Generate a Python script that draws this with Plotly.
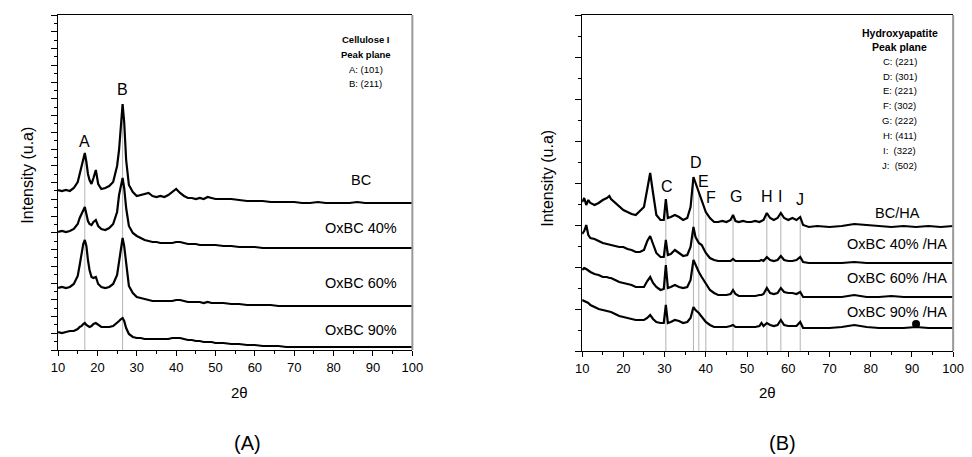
import numpy as np
import plotly.graph_objects as go

# ---------------- Panel A data (Cellulose) ----------------
x_a = [10, 11, 12, 13, 14, 15, 15.5, 16, 16.4, 16.8, 17.2, 17.6, 18, 18.5, 19, 19.6, 20.2, 21, 22, 23, 24, 25,
       25.5, 26, 26.4, 26.8, 27.3, 28, 29, 30, 31, 32, 33, 34, 35, 36, 37, 38, 39, 40, 41, 42, 43, 44, 45, 46,
       47, 48, 49, 50, 52, 54, 56, 58, 60, 62, 64, 66, 68, 70, 72, 74, 76, 78, 80, 82, 84, 86, 88, 90, 92, 94,
       96, 98, 100]
bc = [160, 159, 160, 159, 162, 168, 176, 184, 192, 197, 188, 176, 170, 166, 172, 180, 166, 161, 162, 164, 168, 184,
      200, 228, 246, 228, 190, 165, 158, 154, 155, 156, 157, 154, 153, 154, 153, 155, 158, 161, 157, 154, 152, 152,
      151, 152, 151, 153, 152, 151, 151, 151, 150, 149, 149, 149, 148, 148, 148, 148, 147, 147, 148, 147, 147, 147,
      147, 148, 147, 147, 147, 147, 147, 147, 147]
oxbc40 = [118, 119, 118, 119, 121, 126, 132, 137, 141, 143, 136, 129, 126, 125, 128, 130, 124, 121, 120, 122, 126,
          138, 155, 166, 172, 162, 142, 124, 117, 114, 112, 110, 109, 108, 108, 107, 107, 107, 107, 108, 108, 107,
          106, 106, 106, 105, 105, 105, 105, 105, 104, 104, 103, 103, 103, 102, 102, 102, 102, 102, 102, 102, 102,
          102, 102, 102, 102, 102, 102, 102, 102, 102, 102, 102, 102]
oxbc60 = [62, 63, 62, 63, 66, 74, 85, 97, 106, 110, 104, 90, 80, 73, 72, 73, 66, 63, 62, 63, 66, 75, 90, 105, 112,
          104, 85, 64, 57, 53, 52, 51, 50, 49, 49, 49, 49, 49, 49, 50, 50, 49, 48, 48, 48, 48, 47, 48, 47, 47, 47,
          46, 46, 45, 45, 45, 45, 44, 44, 44, 44, 44, 44, 44, 44, 44, 44, 44, 44, 44, 44, 44, 44, 44, 44]
oxbc90 = [18, 17, 18, 19, 19, 21, 23, 24, 26, 27, 25, 24, 23, 24, 26, 27, 25, 23, 23, 23, 24, 27, 29, 31, 32, 29,
          22, 16, 13, 12, 12, 11, 11, 11, 11, 11, 11, 11, 12, 12, 12, 11, 10, 10, 9, 9, 8, 8, 8, 7, 7, 6, 6, 5, 5,
          4, 4, 4, 3, 3, 3, 3, 3, 3, 3, 3, 3, 3, 3, 3, 3, 3, 3, 3, 3]
peaks_a = [16.8, 26.4]
peak_labels_a = ["A", "B"]
names_a = ["BC", "OxBC 40%", "OxBC 60%", "OxBC 90%"]

# ---------------- Panel B data (Hydroxyapatite) ----------------
x_b = [10, 10.5, 11, 11.5, 12, 13, 14, 15, 16, 16.6, 17, 18, 19, 20, 21, 22, 23, 24, 25, 25.8, 26.5, 27.2, 28, 29,
       29.8, 30.3, 30.8, 31.5, 32.5, 33.5, 34.5, 35.5, 36.3, 37, 37.5, 38.3, 39, 40, 41, 42, 43, 44, 45, 46, 46.6,
       47.2, 48, 49, 50, 51, 52, 53, 53.5, 54, 54.8, 55.6, 56.5, 57.4, 58.2, 59, 60, 61, 62, 62.9, 63.6, 65, 67,
       70, 73, 76, 79, 82, 85, 88, 91, 94, 97, 100]
bcha = [149, 153, 146, 151, 148, 146, 148, 151, 153, 155, 152, 148, 145, 141, 139, 137, 136, 140, 144, 162, 178,
        158, 136, 131, 131, 152, 133, 134, 136, 134, 131, 133, 144, 174, 168, 159, 149, 139, 133, 129, 129, 130,
        129, 131, 136, 130, 129, 130, 129, 129, 130, 129, 130, 131, 138, 133, 131, 133, 138, 133, 131, 133, 131,
        134, 126, 124, 125, 124, 125, 127, 126, 125, 124, 125, 124, 125, 124, 125]
oxbc40ha = [117, 120, 126, 116, 113, 112, 110, 108, 107, 106, 106, 105, 104, 104, 102, 101, 99, 99, 101, 110, 115,
            107, 98, 94, 94, 111, 96, 97, 101, 98, 95, 96, 104, 124, 114, 108, 106, 98, 93, 91, 90, 90, 90, 90, 92,
            90, 90, 90, 90, 90, 90, 90, 91, 90, 94, 91, 90, 91, 95, 91, 90, 90, 91, 94, 89, 88, 88, 88, 88, 89, 88,
            88, 88, 88, 88, 88, 88, 88]
oxbc60ha = [81, 83, 82, 80, 79, 77, 76, 74, 74, 73, 73, 71, 69, 68, 67, 66, 64, 64, 64, 70, 74, 68, 64, 61, 62, 86,
            63, 64, 66, 64, 63, 64, 71, 91, 86, 79, 74, 68, 61, 58, 56, 56, 56, 57, 61, 57, 55, 55, 55, 55, 55, 56,
            56, 57, 63, 58, 57, 58, 63, 59, 58, 58, 57, 59, 54, 54, 54, 54, 54, 56, 54, 54, 55, 54, 54, 54, 54, 54]
oxbc90ha = [51, 50, 49, 48, 46, 44, 42, 41, 40, 39, 39, 37, 35, 34, 33, 32, 31, 31, 31, 33, 36, 32, 29, 28, 28, 46,
            28, 29, 31, 30, 28, 29, 33, 44, 41, 38, 34, 29, 26, 24, 24, 24, 24, 25, 26, 24, 24, 24, 24, 24, 24, 25,
            28, 25, 28, 26, 25, 26, 31, 26, 25, 25, 25, 29, 23, 23, 23, 23, 24, 26, 24, 23, 23, 23, 24, 23, 23, 23]
peaks_b = [30.3, 37.0, 38.3, 40.0, 46.6, 54.8, 58.2, 62.9]
peak_labels_b = ["C", "D", "E", "F", "G", "H", "I", "J"]
names_b = ["BC/HA", "OxBC 40% /HA", "OxBC 60% /HA", "OxBC 90% /HA"]
dot_b = (91, 27)

legend_a = ["Cellulose I", "Peak plane", "A: (101)", "B: (211)"]
legend_b = ["Hydroxyapatite", "Peak plane", "C: (221)", "D: (301)", "E: (221)", "F: (302)", "G: (222)",
            "H: (411)", "I:  (322)", "J:  (502)"]

FONT = "Liberation Sans, Arial, sans-serif"
W, H = 972, 457

fig = go.Figure()

# reference lines (below the traces)
for p in peaks_a:
    top = float(np.interp(p, x_a, bc))
    fig.add_trace(go.Scatter(x=[p, p], y=[0, top], mode="lines", line=dict(color="#b4b4b4", width=1),
                             xaxis="x", yaxis="y", hoverinfo="skip", showlegend=False))
for p in peaks_b:
    top = float(np.interp(p, x_b, bcha))
    fig.add_trace(go.Scatter(x=[p, p], y=[0, top], mode="lines", line=dict(color="#b4b4b4", width=1),
                             xaxis="x2", yaxis="y2", hoverinfo="skip", showlegend=False))

for ys in [bc, oxbc40, oxbc60, oxbc90]:
    fig.add_trace(go.Scatter(x=x_a, y=ys, mode="lines", line=dict(color="black", width=2.2),
                             xaxis="x", yaxis="y", showlegend=False))
for ys in [bcha, oxbc40ha, oxbc60ha, oxbc90ha]:
    fig.add_trace(go.Scatter(x=x_b, y=ys, mode="lines", line=dict(color="black", width=2.2),
                             xaxis="x2", yaxis="y2", showlegend=False))
fig.add_trace(go.Scatter(x=[dot_b[0]], y=[dot_b[1]], mode="markers", marker=dict(color="black", size=8),
                         xaxis="x2", yaxis="y2", showlegend=False))

def xax(domain, anchor):
    return dict(domain=domain, anchor=anchor, range=[10, 100], showline=True, linecolor="black", linewidth=1,
                mirror=True, ticks="outside", ticklen=5, tickcolor="black", dtick=10, tick0=10,
                minor=dict(dtick=5, ticklen=3, ticks="outside", tickcolor="black"),
                showgrid=False, zeroline=False,
                tickfont=dict(family=FONT, size=13, color="black"))

def yax(domain, anchor, rng, dt):
    return dict(domain=domain, anchor=anchor, range=rng, showline=True, linecolor="black", linewidth=1,
                ticks="outside", ticklen=6, tickcolor="black", dtick=dt, tick0=0, showticklabels=False,
                minor=dict(dtick=dt / 2, ticklen=3, ticks="outside", tickcolor="black"),
                showgrid=False, zeroline=False)

fig.update_layout(
    width=W, height=H, margin=dict(l=0, r=0, t=0, b=0),
    paper_bgcolor="white", plot_bgcolor="white",
    xaxis=xax([52 / W, 413 / W], "y"),
    yaxis=yax([1 - 350 / H, 1 - 15 / H], "x", [0, 335], 16.75),
    xaxis2=xax([586 / W, 964 / W], "y2"),
    yaxis2=yax([1 - 351 / H, 1 - 15 / H], "x2", [0, 336], 42),
)

# grey right borders
for xr, yr in [("x domain", "y domain"), ("x2 domain", "y2 domain")]:
    fig.add_shape(type="line", xref=xr, yref=yr, x0=1, x1=1, y0=0, y1=1, line=dict(color="#999999", width=2))

ann = []
def A(text, x, y, xref, yref, size, bold=False, angle=0):
    t = f"<b>{text}</b>" if bold else text
    ann.append(dict(text=t, x=x, y=y, xref=xref, yref=yref, showarrow=False, textangle=angle,
                    font=dict(family=FONT, size=size, color="black"), xanchor="center", yanchor="middle"))

# Panel A peak labels
A(peak_labels_a[0], 16.8, 208, "x", "y", 16)
A(peak_labels_a[1], 26.5, 260, "x", "y", 16)
# Panel A curve labels
for name, yv in zip(names_a, [170, 122, 67, 20]):
    A(name, 87.0, yv, "x", "y", 14.5)
# Panel A legend
for i, (t, yv) in enumerate(zip(legend_a, [310, 295, 280, 266])):
    A(t, 88.1, yv, "x", "y", 9.5, bold=(i < 2))

# Panel B peak labels
for t, xv, yv in zip(peak_labels_b, [30.6, 37.6, 39.5, 41.2, 47.4, 54.8, 58.1, 62.9],
                     [164, 188, 169, 153, 154, 154, 154, 151]):
    A(t, xv, yv, "x2", "y2", 16)
for name, yv in zip(names_b, [138, 107, 73, 39]):
    A(name, 86.5, yv, "x2", "y2", 14.5)
for i, (t, yv) in enumerate(zip(legend_b, [318, 304, 289, 274, 260, 245, 230, 215, 200, 185])):
    A(t, 87.1, yv, "x2", "y2", 10.5 if i < 2 else 9.5, bold=(i < 2))

# axis titles and panel letters (paper coords)
A("Intensity (u.a)", 20 / W, 1 - 175 / H, "paper", "paper", 16, angle=-90)
A("Intensity (u.a)", 550 / W, 1 - 178 / H, "paper", "paper", 16, angle=-90)
A("2θ", 237 / W, 1 - 392 / H, "paper", "paper", 15)
A("2θ", 775 / W, 1 - 392 / H, "paper", "paper", 15)
A("(A)", 245 / W, 1 - 443 / H, "paper", "paper", 20)
A("(B)", 790 / W, 1 - 443 / H, "paper", "paper", 20)

fig.update_layout(annotations=ann)
fig.write_html("out.html", config={"displayModeBar": False},
               post_script="document.body.style.margin='0px';document.body.style.overflow='hidden';")
